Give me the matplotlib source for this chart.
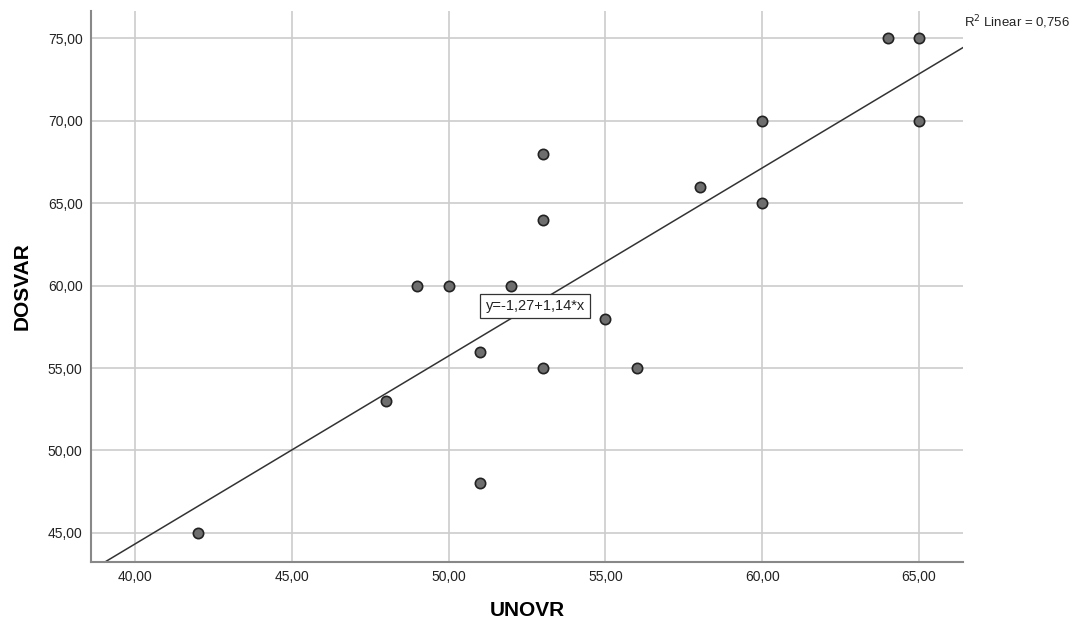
import matplotlib.pyplot as plt
import numpy as np
from matplotlib.ticker import FuncFormatter

plt.rcParams['font.family'] = ['Liberation Sans', 'DejaVu Sans']

unovr = [42, 48, 49, 50, 51, 51, 52, 53, 53, 53, 55, 56, 58, 60, 60, 64, 65, 65]
dosvar = [45, 53, 60, 60, 56, 48, 60, 68, 64, 55, 58, 55, 66, 70, 65, 75, 75, 70]
intercept, slope = -1.27, 1.14
r2 = 0.756

fig = plt.figure(figsize=(10.73, 6.23), dpi=100)
ax = fig.add_axes([0.0848, 0.0979, 0.8127, 0.8844])

ax.set_xlim(38.6, 66.4)
ax.set_ylim(43.24, 76.64)
ax.set_xticks([40, 45, 50, 55, 60, 65])
ax.set_yticks([45, 50, 55, 60, 65, 70, 75])
comma = FuncFormatter(lambda v, p: f"{v:.2f}".replace(".", ","))
ax.xaxis.set_major_formatter(comma)
ax.yaxis.set_major_formatter(comma)
ax.tick_params(length=0, labelsize=10, colors='#222222', pad=6)

ax.grid(True, color='#cccccc', linewidth=1.2)
ax.set_axisbelow(True)
for s in ['top', 'right']:
    ax.spines[s].set_visible(False)
for s in ['left', 'bottom']:
    ax.spines[s].set_color('#888888')
    ax.spines[s].set_linewidth(1.5)

xs = np.array(ax.get_xlim())
ax.plot(xs, intercept + slope * xs, color='#333333', linewidth=1.1, zorder=2)

ax.scatter(unovr, dosvar, s=55, facecolor='#6e6e6e', edgecolor='#222222',
           linewidth=1.2, zorder=3)

ax.text(52.76, 58.76, "y=-1,27+1,14*x", ha='center', va='center', fontsize=10.5,
        color='#222222', zorder=4,
        bbox=dict(boxstyle='square,pad=0.35', facecolor='white', edgecolor='#333333', linewidth=0.9))

fig.text(0.898, 0.965, "R$^{2}$ Linear = " + f"{r2:.3f}".replace(".", ","),
         fontsize=9.5, color='#222222', va='center', ha='left')

ax.set_xlabel("UNOVR", fontsize=15, fontweight='bold', labelpad=12)
ax.set_ylabel("DOSVAR", fontsize=15, fontweight='bold', labelpad=12)

fig.savefig("out.png", dpi=100)
